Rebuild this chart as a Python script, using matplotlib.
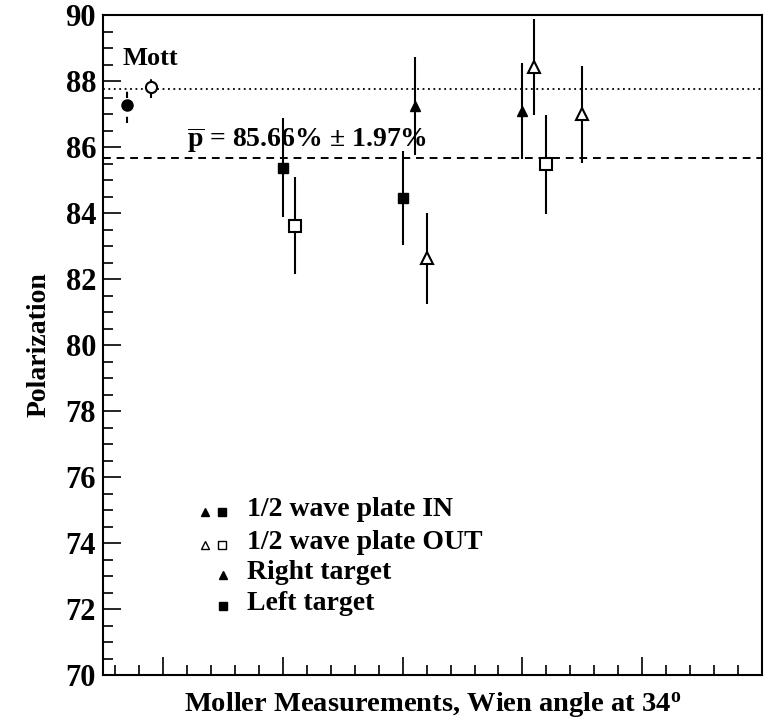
import numpy as np
import matplotlib
matplotlib.use("Agg")
import matplotlib.pyplot as plt

plt.rcParams['font.family'] = ['Liberation Serif', 'DejaVu Serif']
plt.rcParams['font.weight'] = 'bold'
plt.rcParams['mathtext.fontset'] = 'custom'
plt.rcParams['mathtext.rm'] = 'Liberation Serif:bold'
plt.rcParams['mathtext.bf'] = 'Liberation Serif:bold'
plt.rcParams['mathtext.it'] = 'Liberation Serif:bold'

# Mott measurements
mott_x = [0.70, 0.90]
mott_y = [87.29, 87.83]
mott_err = [0.57, 0.33]

# Moller measurements: (x, value, error)
in_left_x = [2.0, 3.0]          # filled squares
in_left_y = [85.38, 84.46]
in_left_err = [1.49, 1.42]

out_left_x = [2.1, 4.2]         # open squares
out_left_y = [83.61, 85.48]
out_left_err = [1.47, 1.50]

in_right_x = [3.1, 4.0]         # filled triangles
in_right_y = [87.24, 87.09]
in_right_err = [1.49, 1.46]

out_right_x = [3.2, 4.1, 4.5]   # open triangles
out_right_y = [82.63, 88.43, 86.99]
out_right_err = [1.38, 1.46, 1.47]

p_mean = 85.66
p_err = 1.97
mott_line = 87.75

fig = plt.figure(figsize=(7.69, 7.2), dpi=100)
ax = fig.add_axes([0.134, 0.0625, 0.857, 0.9165])

ax.axhline(mott_line, color='black', lw=1.3, ls=(0, (1, 2)))
ax.axhline(p_mean, color='black', lw=1.4, ls=(0, (4, 3)))

eb = ax.errorbar(mott_x[:1], mott_y[:1], yerr=mott_err[:1], fmt='o', color='black',
                 ms=8, lw=1.5, capsize=0)
eb[2][0].set_linestyle((0, (3, 3)))
eb = ax.errorbar(mott_x[1:], mott_y[1:], yerr=mott_err[1:], fmt='o', color='black',
                 mfc='white', mew=1.5, ms=8, lw=1.5, capsize=0)
eb[2][0].set_linestyle((0, (3, 3)))

ax.errorbar(in_left_x, in_left_y, yerr=in_left_err, fmt='s', color='black',
            ms=7, lw=1.5, capsize=0)
ax.errorbar(out_left_x, out_left_y, yerr=out_left_err, fmt='s', color='black',
            mfc='white', mew=1.5, ms=8, lw=1.5, capsize=0)
ax.errorbar(in_right_x, in_right_y, yerr=in_right_err, fmt='^', color='black',
            ms=7, lw=1.5, capsize=0)
ax.errorbar(out_right_x, out_right_y, yerr=out_right_err, fmt='^', color='black',
            mfc='white', mew=1.5, ms=9, lw=1.5, capsize=0)

ax.set_xlim(0.5, 6.0)
ax.set_ylim(70, 90)
ax.set_xticks(np.arange(1, 6.01, 1))
ax.set_xticks(np.arange(0.6, 6.0, 0.2), minor=True)
ax.set_yticks(np.arange(70, 90.1, 2))
ax.set_yticks(np.arange(70, 90.1, 0.5), minor=True)
ax.tick_params(axis='both', which='major', direction='in', length=13, width=1.2)
ax.tick_params(axis='both', which='minor', direction='in', length=7, width=1.2)
ax.tick_params(axis='x', labelbottom=False)
ax.tick_params(axis='y', labelsize=22, pad=5)
for s in ax.spines.values():
    s.set_linewidth(1.5)

ax.set_ylabel('Polarization', fontsize=20, fontweight='bold', labelpad=10)
ax.set_xlabel(r'Moller Measurements, Wien angle at 34$^{\mathrm{o}}$', fontsize=20.5,
              fontweight='bold', labelpad=8)

ax.text(0.029, 0.924, 'Mott', transform=ax.transAxes, fontsize=19, fontweight='bold')
ax.text(0.128, 0.80, r'$\overline{\mathrm{p}}$ = 85.66% $\pm$ 1.97%',
        transform=ax.transAxes, fontsize=20, fontweight='bold')

# legend
rows = [0.247, 0.197, 0.152, 0.105]
labels = ['1/2 wave plate IN', '1/2 wave plate OUT', 'Right target', 'Left target']
mk = dict(transform=ax.transAxes, color='black', ls='none', clip_on=False)
ax.plot([0.154], [rows[0]], marker='^', ms=6, **mk)
ax.plot([0.180], [rows[0]], marker='s', ms=6, **mk)
ax.plot([0.154], [rows[1]], marker='^', ms=6, mfc='white', mew=1.0, **mk)
ax.plot([0.180], [rows[1]], marker='s', ms=6, mfc='white', mew=1.0, **mk)
ax.plot([0.182], [rows[2]], marker='^', ms=6, **mk)
ax.plot([0.182], [rows[3]], marker='s', ms=6, **mk)
for yy, lab in zip(rows, labels):
    ax.text(0.218, yy + 0.004, lab, transform=ax.transAxes, fontsize=20, fontweight='bold',
            va='center')

fig.savefig('out.png', dpi=100)
